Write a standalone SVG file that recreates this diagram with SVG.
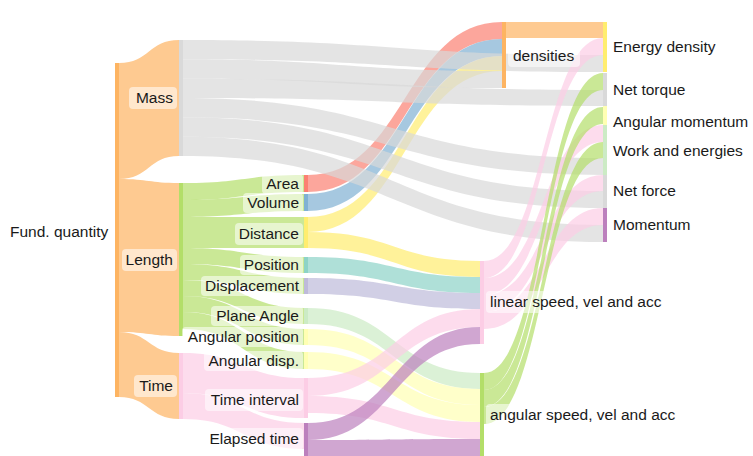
<svg xmlns="http://www.w3.org/2000/svg" width="753" height="456" viewBox="0 0 753 456">
<style>
.l{fill-opacity:0.7;stroke:none}
.n{stroke:none}
text{font-family:"Liberation Sans",Arial,sans-serif;font-size:15.5px;fill:#1a1a1a}
.bg{fill:#ffffff;fill-opacity:0.55}
.e{text-anchor:end}
</style>
<rect width="753" height="456" fill="#ffffff"/>
<g id="links">
<path class="l" fill="#fdb462" d="M119,63 C149,63 149,40 179,40 L179,156 C149,156 149,179 119,179 Z"/>
<path class="l" fill="#fdb462" d="M119,179 C149,179 149,183 179,183 L179,336 C149,336 149,332 119,332 Z"/>
<path class="l" fill="#fdb462" d="M119,332 C149,332 149,353 179,353 L179,419 C149,419 149,397 119,397 Z"/>
<path class="l" fill="#b3de69" d="M183,183 C243.5,183 243.5,175 304,175 L304,192 C243.5,192 243.5,200 183,200 Z"/>
<path class="l" fill="#b3de69" d="M183,200 C243.5,200 243.5,194 304,194 L304,211 C243.5,211 243.5,217 183,217 Z"/>
<path class="l" fill="#b3de69" d="M183,217 C243.5,217 243.5,217 304,217 L304,248 C243.5,248 243.5,248 183,248 Z"/>
<path class="l" fill="#b3de69" d="M183,248 C243.5,248 243.5,257 304,257 L304,273 C243.5,273 243.5,264 183,264 Z"/>
<path class="l" fill="#b3de69" d="M183,264 C243.5,264 243.5,278 304,278 L304,294 C243.5,294 243.5,280 183,280 Z"/>
<path class="l" fill="#b3de69" d="M183,280 C243.5,280 243.5,308 304,308 L304,324 C243.5,324 243.5,296 183,296 Z"/>
<path class="l" fill="#b3de69" d="M183,296 C243.5,296 243.5,329 304,329 L304,345 C243.5,345 243.5,312 183,312 Z"/>
<path class="l" fill="#b3de69" d="M183,312 C243.5,312 243.5,352 304,352 L304,369 C243.5,369 243.5,329 183,329 Z"/>
<path class="l" fill="#fccde5" d="M183,353 C243.5,353 243.5,378 304,378 L304,418 C243.5,418 243.5,393 183,393 Z"/>
<path class="l" fill="#fccde5" d="M183,393 C243.5,393 243.5,423 304,423 L304,449 C243.5,449 243.5,419 183,419 Z"/>
<path class="l" fill="#fb8072" d="M308,175 C405,175 405,22 502,22 L502,39 C405,39 405,192 308,192 Z"/>
<path class="l" fill="#80b1d3" d="M308,194 C405,194 405,39 502,39 L502,56 C405,56 405,211 308,211 Z"/>
<path class="l" fill="#ffed6f" d="M308,217 C405,217 405,56 502,56 L502,71 C405,71 405,232 308,232 Z"/>
<path class="l" fill="#ffed6f" d="M308,232 C394,232 394,261 480,261 L480,277 C394,277 394,248 308,248 Z"/>
<path class="l" fill="#8dd3c7" d="M308,257 C394,257 394,277 480,277 L480,293 C394,293 394,273 308,273 Z"/>
<path class="l" fill="#bebada" d="M308,278 C394,278 394,293 480,293 L480,309 C394,309 394,294 308,294 Z"/>
<path class="l" fill="#ccebc5" d="M308,308 C394,308 394,373 480,373 L480,389 C394,389 394,324 308,324 Z"/>
<path class="l" fill="#ffffb3" d="M308,329 C394,329 394,389 480,389 L480,405 C394,405 394,345 308,345 Z"/>
<path class="l" fill="#ffffb3" d="M308,352 C394,352 394,405 480,405 L480,422 C394,422 394,369 308,369 Z"/>
<path class="l" fill="#fccde5" d="M308,378 C394,378 394,309 480,309 L480,327 C394,327 394,396 308,396 Z"/>
<path class="l" fill="#fccde5" d="M308,396 C394,396 394,422 480,422 L480,439 C394,439 394,413 308,413 Z"/>
<path class="l" fill="#bc80bd" d="M308,423 C394,423 394,327 480,327 L480,344 C394,344 394,440 308,440 Z"/>
<path class="l" fill="#bc80bd" d="M308,440 C394,440 394,439 480,439 L480,456 C394,456 394,457 308,457 Z"/>
<path class="l" fill="#d9d9d9" d="M183,40 C393,40 393,55 603,55 L603,72 C393,72 393,59.3 183,59.3 Z"/>
<path class="l" fill="#d9d9d9" d="M183,59.3 C342.5,59.3 342.5,71 502,71 L502,88 C342.5,88 342.5,78.7 183,78.7 Z"/>
<path class="l" fill="#d9d9d9" d="M183,78.7 C393,78.7 393,90 603,90 L603,106 C393,106 393,98 183,98 Z"/>
<path class="l" fill="#d9d9d9" d="M183,98 C393,98 393,158 603,158 L603,175 C393,175 393,117.3 183,117.3 Z"/>
<path class="l" fill="#d9d9d9" d="M183,117.3 C393,117.3 393,191 603,191 L603,208 C393,208 393,136.7 183,136.7 Z"/>
<path class="l" fill="#d9d9d9" d="M183,136.7 C393,136.7 393,225 603,225 L603,242 C393,242 393,156 183,156 Z"/>
<path class="l" fill="#fdb462" d="M506,22 C554.5,22 554.5,22 603,22 L603,38 C554.5,38 554.5,38 506,38 Z"/>
<path class="l" fill="#fccde5" d="M484,261 C543.5,261 543.5,38 603,38 L603,55 C543.5,55 543.5,278 484,278 Z"/>
<path class="l" fill="#fccde5" d="M484,278 C543.5,278 543.5,125 603,125 L603,142 C543.5,142 543.5,295 484,295 Z"/>
<path class="l" fill="#fccde5" d="M484,295 C543.5,295 543.5,175 603,175 L603,191 C543.5,191 543.5,312 484,312 Z"/>
<path class="l" fill="#fccde5" d="M484,312 C543.5,312 543.5,208 603,208 L603,225 C543.5,225 543.5,329 484,329 Z"/>
<path class="l" fill="#b3de69" d="M484,373 C543.5,373 543.5,73 603,73 L603,90 C543.5,90 543.5,390 484,390 Z"/>
<path class="l" fill="#b3de69" d="M484,390 C543.5,390 543.5,107 603,107 L603,124 C543.5,124 543.5,407 484,407 Z"/>
<path class="l" fill="#b3de69" d="M484,407 C543.5,407 543.5,142 603,142 L603,158 C543.5,158 543.5,424 484,424 Z"/>
</g>
<g id="node-fund"><rect class="n" x="115" y="63" width="4" height="334" fill="#fdb462"/><text x="10" y="237">Fund. quantity</text></g>
<g id="node-mass"><rect class="n" x="179" y="40" width="4" height="116" fill="#d9d9d9"/><rect class="bg" x="129" y="87" width="48" height="22" rx="4"/><text class="e" x="173" y="103">Mass</text></g>
<g id="node-length"><rect class="n" x="179" y="183" width="4" height="153" fill="#b3de69"/><rect class="bg" x="122" y="249" width="55" height="22" rx="4"/><text class="e" x="173" y="265">Length</text></g>
<g id="node-time"><rect class="n" x="179" y="353" width="4" height="66" fill="#fccde5"/><rect class="bg" x="134" y="375" width="43" height="22" rx="4"/><text class="e" x="173" y="391">Time</text></g>
<g id="node-area"><rect class="n" x="304" y="175" width="4" height="17" fill="#fb8072"/><rect class="bg" x="262" y="174" width="41" height="20" rx="4"/><text class="e" x="299" y="189">Area</text></g>
<g id="node-volume"><rect class="n" x="304" y="194" width="4" height="17" fill="#80b1d3"/><rect class="bg" x="243" y="193" width="60" height="20" rx="4"/><text class="e" x="299" y="208">Volume</text></g>
<g id="node-distance"><rect class="n" x="304" y="217" width="4" height="31" fill="#ffed6f"/><rect class="bg" x="235" y="223" width="68" height="22" rx="4"/><text class="e" x="299" y="239">Distance</text></g>
<g id="node-position"><rect class="n" x="304" y="257" width="4" height="16" fill="#8dd3c7"/><rect class="bg" x="240" y="255" width="63" height="20" rx="4"/><text class="e" x="299" y="270">Position</text></g>
<g id="node-displacement"><rect class="n" x="304" y="278" width="4" height="16" fill="#bebada"/><rect class="bg" x="201" y="276" width="102" height="20" rx="4"/><text class="e" x="299" y="291">Displacement</text></g>
<g id="node-plane-angle"><rect class="n" x="304" y="308" width="4" height="16" fill="#ccebc5"/><rect class="bg" x="211" y="306" width="92" height="20" rx="4"/><text class="e" x="299" y="321">Plane Angle</text></g>
<g id="node-angular-position"><rect class="n" x="304" y="329" width="4" height="16" fill="#ffffb3"/><rect class="bg" x="182" y="327" width="121" height="20" rx="4"/><text class="e" x="299" y="342">Angular position</text></g>
<g id="node-angular-disp"><rect class="n" x="304" y="352" width="4" height="17" fill="#ffffb3"/><rect class="bg" x="204" y="351" width="99" height="20" rx="4"/><text class="e" x="299" y="366">Angular disp.</text></g>
<g id="node-time-interval"><rect class="n" x="304" y="378" width="4" height="40" fill="#fccde5"/><rect class="bg" x="205" y="389" width="98" height="22" rx="4"/><text class="e" x="299" y="405">Time interval</text></g>
<g id="node-elapsed-time"><rect class="n" x="304" y="423" width="4" height="33" fill="#bc80bd"/><rect class="bg" x="200" y="428" width="103" height="22" rx="4"/><text class="e" x="299" y="444">Elapsed time</text></g>
<g id="node-densities"><rect class="n" x="502" y="22" width="4" height="66" fill="#fdb462"/><rect class="bg" x="508" y="45" width="72" height="22" rx="4"/><text x="513" y="61">densities</text></g>
<g id="node-linear"><rect class="n" x="480" y="261" width="4" height="83" fill="#fccde5"/><rect class="bg" x="486" y="291" width="180" height="22" rx="4"/><text x="490" y="307">linear speed, vel and acc</text></g>
<g id="node-angular"><rect class="n" x="480" y="373" width="4" height="83" fill="#b3de69"/><rect class="bg" x="486" y="404" width="196" height="22" rx="4"/><text x="490" y="420">angular speed, vel and acc</text></g>
<g id="node-energy-density"><rect class="n" x="603" y="22" width="4" height="50" fill="#ffed6f"/><text x="613" y="52">Energy density</text></g>
<g id="node-net-torque"><rect class="n" x="603" y="73" width="4" height="33" fill="#d9d9d9"/><text x="613" y="95">Net torque</text></g>
<g id="node-angular-momentum"><rect class="n" x="603" y="106" width="4" height="19" fill="#ffffb3"/><text x="613" y="127">Angular momentum</text></g>
<g id="node-work"><rect class="n" x="603" y="125" width="4" height="50" fill="#ccebc5"/><text x="613" y="156">Work and energies</text></g>
<g id="node-net-force"><rect class="n" x="603" y="175" width="4" height="33" fill="#d9d9d9"/><text x="613" y="196">Net force</text></g>
<g id="node-momentum"><rect class="n" x="603" y="208" width="4" height="34" fill="#bc80bd"/><text x="613" y="230">Momentum</text></g>
</svg>
